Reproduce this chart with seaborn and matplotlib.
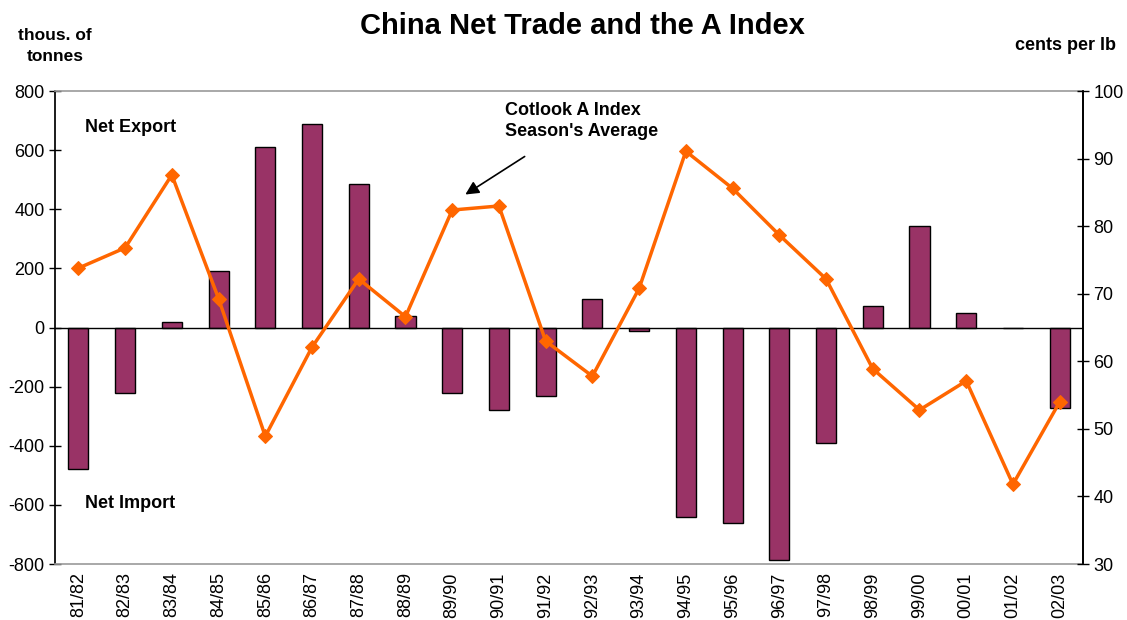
import matplotlib
matplotlib.use("Agg")
import matplotlib.pyplot as plt
import matplotlib.patches as mpatches
import seaborn as sns
import pandas as pd

seasons = ["81/82", "82/83", "83/84", "84/85", "85/86", "86/87", "87/88", "88/89",
           "89/90", "90/91", "91/92", "92/93", "93/94", "94/95", "95/96", "96/97",
           "97/98", "98/99", "99/00", "00/01", "01/02", "02/03"]
net_trade = [-480, -220, 20, 190, 610, 690, 487, 40, -220, -280, -232, 98, -12,
             -640, -660, -785, -390, 72, 343, 48, 0, -272]
a_index = [73.8, 76.8, 87.6, 69.3, 48.9, 62.1, 72.2, 66.6, 82.4, 83.0, 63.0, 57.8,
           70.8, 91.1, 85.6, 78.7, 72.2, 58.9, 52.8, 57.1, 41.8, 54.0]
left_ticks = [-800, -600, -400, -200, 0, 200, 400, 600, 800]
right_ticks = [30, 40, 50, 60, 70, 80, 90, 100]

sns.set_theme(style="white")
plt.rcParams["font.family"] = ["Liberation Sans", "DejaVu Sans"]
plt.rcParams["text.color"] = "black"
plt.rcParams["axes.labelcolor"] = "black"
plt.rcParams["xtick.color"] = "black"
plt.rcParams["ytick.color"] = "black"

df = pd.DataFrame({"season": seasons, "trade": net_trade, "index": a_index,
                   "pos": list(range(len(seasons)))})

fig = plt.figure(figsize=(11.27, 6.2), dpi=100)
ax = fig.add_axes([0.0488, 0.0903, 0.9122, 0.7627])

sns.barplot(data=df, x="season", y="trade", ax=ax, color="#993366", width=0.43,
            edgecolor="black", linewidth=1.0, saturation=1)
ax.set_xlim(-0.5, len(seasons) - 0.5)
ax.set_ylim(-800, 800)
ax.set_yticks(left_ticks)
ax.set_yticklabels([str(v) for v in left_ticks], fontsize=13, color="black")
ax.axhline(0, color="black", linewidth=1.0, zorder=1)
ax.set_xlabel("")
ax.set_ylabel("")
ax.tick_params(axis="x", length=0, labelsize=13, labelrotation=90, labelcolor="black", pad=6)
ax.tick_params(axis="y", direction="inout", length=8, width=1, color="black", left=True)
for side in ["top", "bottom"]:
    ax.spines[side].set_color("#999999")
    ax.spines[side].set_linewidth(1.2)
ax.spines["left"].set_color("black")
ax.spines["right"].set_color("black")

ax2 = ax.twinx()
sns.lineplot(data=df, x="pos", y="index", ax=ax2, color="#FF6600", linewidth=2.5,
             marker="D", markersize=7, markeredgecolor="#FF6600", markerfacecolor="#FF6600")
ax2.set_ylim(30, 100)
ax2.set_xlim(-0.5, len(seasons) - 0.5)
ax2.set_yticks(right_ticks)
ax2.set_yticklabels([str(v) for v in right_ticks], fontsize=13, color="black")
ax2.set_ylabel("")
ax2.set_xlabel("")
ax2.tick_params(axis="y", direction="inout", length=8, width=1, color="black", right=True)
for side in ["top", "bottom"]:
    ax2.spines[side].set_visible(False)
ax2.spines["right"].set_color("black")
ax2.spines["left"].set_visible(False)

fig.text(0.517, 0.958, "China Net Trade and the A Index", ha="center", va="center",
         fontsize=21, fontweight="bold")
fig.text(0.049, 0.926, "thous. of\ntonnes", ha="center", va="center", fontsize=12.5,
         fontweight="bold", linespacing=1.45)
fig.text(0.99, 0.927, "cents per lb", ha="right", va="center", fontsize=13, fontweight="bold")

ax.text(0.029, 0.924, "Net Export", transform=ax.transAxes, fontsize=13, fontweight="bold",
        ha="left", va="center")
ax.text(0.029, 0.127, "Net Import", transform=ax.transAxes, fontsize=13, fontweight="bold",
        ha="left", va="center")
fig.text(0.448, 0.805, "Cotlook A Index\nSeason's Average", fontsize=13, fontweight="bold",
         ha="left", va="center", linespacing=1.3)
arrow = mpatches.FancyArrowPatch((527 / 1127, 1 - 155 / 620), (463 / 1127, 1 - 196 / 620),
                                 transform=fig.transFigure, arrowstyle="-|>",
                                 mutation_scale=20, color="black", linewidth=1.2)
fig.patches.append(arrow)

fig.savefig("out.png", dpi=100)
